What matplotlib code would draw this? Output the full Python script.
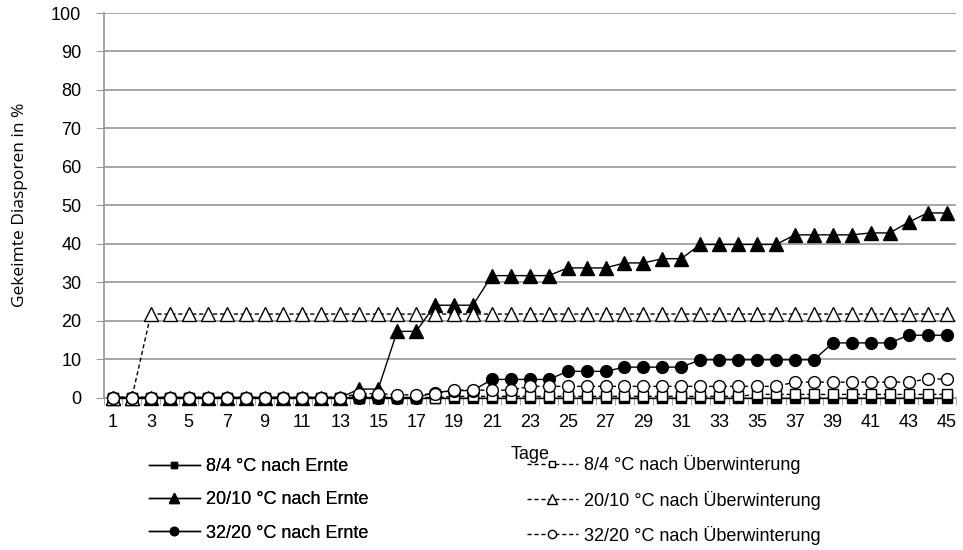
import matplotlib
matplotlib.use("Agg")
import matplotlib.pyplot as plt

days = list(range(1, 46))

ernte_8_4 = [0]*45
uew_8_4 = [0, 0, 0, 0, 0, 0, 0, 0, 0, 0, 0, 0, 0, 0, 0, 0, 0, 0,
           0.3, 0.3, 0.3, 0.3, 0.3, 0.3, 0.3, 0.3, 0.3, 0.3, 0.3, 0.3, 0.3, 0.3, 0.3, 0.3,
           0.8, 0.8, 0.8, 0.8, 0.8, 0.8, 0.8, 0.8, 0.8, 0.8, 0.8]
ernte_20_10 = [0, 0, 0, 0, 0, 0, 0, 0, 0, 0, 0, 0, 0,
               2.2, 2.2, 17.2, 17.2, 24, 24, 24, 31.7, 31.7, 31.7, 31.7,
               33.7, 33.7, 33.7, 35, 35, 36.1, 36.1, 39.8, 39.8, 39.8, 39.8, 39.8,
               42.3, 42.3, 42.3, 42.3, 42.8, 42.8, 45.6, 48, 48]
uew_20_10 = [0, 0] + [21.7]*43
ernte_32_20 = [0, 0, 0, 0, 0, 0, 0, 0, 0, 0, 0, 0, 0, 0, 0, 0, 0,
               1.3, 1.8, 1.8, 4.7, 4.7, 4.7, 4.7, 6.8, 6.8, 6.8,
               7.9, 7.9, 7.9, 7.9, 9.8, 9.8, 9.8, 9.8, 9.8, 9.8, 9.8,
               14.2, 14.2, 14.2, 14.2, 16.2, 16.2, 16.2]
uew_32_20 = [0, 0, 0, 0, 0, 0, 0, 0, 0, 0, 0, 0, 0,
             1.0, 1.0, 0.7, 0.7, 1.0, 1.9, 1.9, 1.9, 1.9,
             2.9, 2.9, 2.9, 2.9, 2.9, 2.9, 2.9, 2.9, 2.9, 2.9, 2.9, 2.9, 2.9, 2.9,
             4.0, 4.0, 4.0, 4.0, 4.0, 4.0, 4.0, 4.8, 4.8]

labels = ["8/4 °C nach Ernte", "8/4 °C nach Überwinterung",
          "20/10 °C nach Ernte", "20/10 °C nach Überwinterung",
          "32/20 °C nach Ernte", "32/20 °C nach Überwinterung"]
ytick_vals = list(range(0, 101, 10))
xtick_vals = list(range(1, 46, 2))

FONT = ["Liberation Sans", "DejaVu Sans"]
plt.rcParams['font.family'] = FONT

fig = plt.figure(figsize=(9.63, 5.5), dpi=100)
ax = fig.add_axes([103.5/963, 1-397.5/550, (956-103.5)/963, (397.5-13)/550])

grey = "#969696"
solid = dict(color="black", lw=1.0, clip_on=False, zorder=3)
dash = dict(color="black", lw=1.0, ls=(0, (3, 2)), clip_on=False, zorder=3)

series = [
    (ernte_8_4, solid, dict(marker="s", ms=7, mfc="black", mec="black")),
    (uew_8_4, dash, dict(marker="s", ms=7, mfc="white", mec="black", mew=1)),
    (ernte_20_10, solid, dict(marker="^", ms=9.5, mfc="black", mec="black")),
    (uew_20_10, dash, dict(marker="^", ms=9.5, mfc="white", mec="black", mew=1)),
    (ernte_32_20, solid, dict(marker="o", ms=8.5, mfc="black", mec="black")),
    (uew_32_20, dash, dict(marker="o", ms=8.5, mfc="white", mec="black", mew=1)),
]
handles = []
for (vals, ls, mk), lab in zip(series, labels):
    h, = ax.plot(days, vals, label=lab, **ls, **mk)
    handles.append(h)

ax.set_xlim(0.5, 45.5)
ax.set_ylim(0, 100)
ax.set_yticks(ytick_vals)
ax.set_xticks(xtick_vals)
ax.set_xticks([d + 0.5 for d in range(0, 46)], minor=True)
ax.tick_params(axis="x", which="major", length=0, pad=12, labelsize=13)
ax.tick_params(axis="x", which="minor", length=5, color=grey, direction="out")
ax.tick_params(axis="y", length=6, color=grey, direction="out", labelsize=13, pad=10)
ax.grid(axis="y", color=grey, lw=1.2)
ax.set_axisbelow(True)
for s in ["top", "right"]:
    ax.spines[s].set_visible(False)
for s in ["left", "bottom"]:
    ax.spines[s].set_color(grey)
    ax.spines[s].set_linewidth(1.2)

ax.set_xlabel("Tage", fontsize=13, labelpad=11)
fig.text(20/963, 1-205/550, "Gekeimte Diasporen in %", rotation=90,
         ha="center", va="center", fontsize=12.5, family=["Open Sans", "DejaVu Sans"])

legkw = dict(loc="center left", frameon=False, fontsize=13, handlelength=2.8,
             markerscale=0.7, labelspacing=0.9, handletextpad=0.35, borderpad=0)
leg1 = fig.legend([handles[i] for i in (0, 2, 4)], [labels[i] for i in (0, 2, 4)],
                  bbox_to_anchor=(140/963, 1-500/550), **legkw)
fig.add_artist(leg1)
leg2 = fig.legend([handles[i] for i in (1, 3, 5)], [labels[i] for i in (1, 3, 5)],
                  bbox_to_anchor=(518/963, 1-500/550), **legkw)

fig.savefig("out.png", dpi=100)
